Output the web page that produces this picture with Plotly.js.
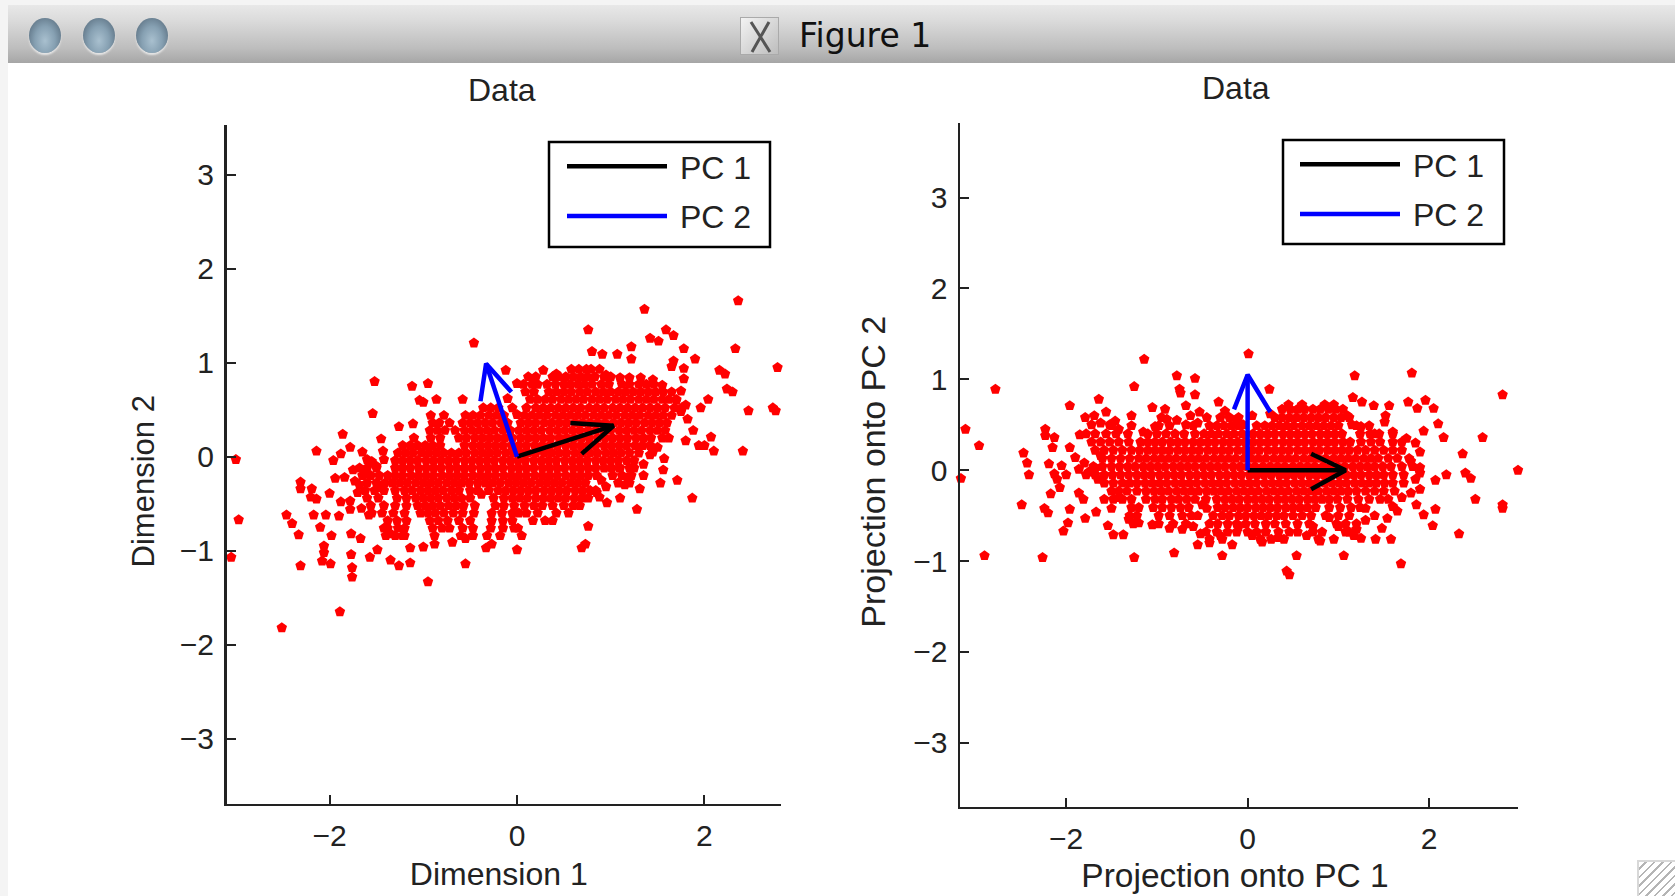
<!DOCTYPE html>
<html><head><meta charset="utf-8">
<script src="https://cdn.plot.ly/plotly-3.0.1.min.js"></script>
<style>
html,body{margin:0;padding:0;width:1675px;height:896px;overflow:hidden;background:#f4f4f4}
#sheet{position:absolute;left:8px;top:63px;right:0;bottom:0;background:#fff}
#bar{position:absolute;left:8px;top:5px;right:0;height:58px;background:linear-gradient(#e8e8e8,#dcdcdc 25%,#bdbdbd 75%,#a6a6a6)}
.btn{position:absolute;top:18px;width:32px;height:35px;border-radius:50%;background:radial-gradient(ellipse at 50% 65%,#a9c0cf 0%,#86a0b2 45%,#5d7283 85%,#4c5c68 100%);box-shadow:0 2px 2px #e6e6e6}
#xicon{position:absolute;left:740px;top:17px;width:39px;height:38px;background:linear-gradient(135deg,#f3f3f3,#bdbdbd);border:1px solid #aaa;box-sizing:border-box;overflow:hidden}
#grip{position:absolute;left:1637px;top:860px;width:38px;height:36px;border:2px solid #d8d8d8;border-right:0;border-bottom:0;box-sizing:border-box;background:repeating-linear-gradient(135deg,#fff 0 4px,#b5b5b5 4px 6px)}
#plot{position:absolute;left:0;top:0}
</style></head><body>
<div id="bar"></div><div id="sheet"></div>
<div class="btn" style="left:29px"></div><div class="btn" style="left:83px"></div><div class="btn" style="left:136px"></div>
<div id="xicon"><svg width="39" height="38"><path d="M10 4 L29 34 M28 4 L11 34" stroke="#555" stroke-width="3" fill="none"/></svg></div>
<div id="grip"></div>
<div id="plot"></div>
<script>
// ---- tick labels and text ----
const tickX = [-2, 0, 2];
const tickY = [-3, -2, -1, 0, 1, 2, 3];
const legendNames = ["PC 1", "PC 2"];

// ---- left panel: individually readable points [x, y] ----
const leftSparse = [[2.36,1.66],[1.36,1.57],[.76,1.35],[1.59,1.35],[1.67,1.29],[1.42,1.26],[1.51,1.23],[-.46,1.21],[2.33,1.15],[1.22,1.17],[1.78,1.15],[.8,1.12],[.91,1.09],[1.07,1.09],[1.22,1.04],[1.9,1.04],[1.67,1.02],[2.78,.95],[2.16,.92],[2.22,.88],[1.65,.96],[-.12,.92],[-1.52,.8],[-1.12,.75],[-.95,.78],[2.24,.72],[2.3,.69],[1.78,.94],[1.78,.83],[2.04,.61],[1.96,.52],[2.47,.49],[2.73,.52],[2.76,.49],[-1.04,.6],[-1,.58],[-.86,.61],[-.58,.61],[-1.54,.46],[-1.26,.32],[-1.11,.35],[-1.86,.24],[1.82,.4],[1.88,.28],[2.07,.21],[1.8,.17],[1.94,.12],[2,.12],[2.1,.06],[2.41,.06],[-3,-.03],[-2.14,.06],[-1.45,.19],[-1.43,.06],[-1.96,-.04],[-1.88,.03],[-1.78,.1],[-1.65,.05],[-1.6,-.03],[-3.14,-.57],[-2.97,-.67],[-3.05,-1.07],[-2.46,-.62],[-2.4,-.71],[-2.33,-.83],[-2.31,-.27],[-2.31,-.34],[-2.19,-.34],[-2.2,-.43],[-2.14,-.45],[-2,-.39],[-1.94,-.23],[-1.84,-.22],[-1.73,-.26],[-1.88,-.48],[-1.78,-.56],[-1.9,-.63],[-2.17,-.62],[-2.04,-.62],[-2.1,-.75],[-1.98,-.84],[-2.06,-.95],[-2.06,-1.02],[-2.08,-1.11],[-1.99,-1.14],[-2.31,-1.16],[-1.77,-.82],[-1.67,-.87],[-1.77,-1.04],[-1.76,-1.18],[-1.76,-1.28],[-1.57,-1.07],[-1.49,-.99],[-1.35,-1.1],[-1.26,-1.16],[-1.14,-1.13],[-.95,-1.33],[-.55,-1.14],[-1.89,-1.65],[-2.51,-1.82],[.76,-.74],[.69,-.97],[.73,-.93],[0,-.99],[1.28,-.56],[1.87,-.44],[1.1,-.44],[1.71,-.25],[1.53,-.28],[1.31,-.34],[1.56,-.14],[1.57,-.02],[.96,-.49],[.88,-.43],[.05,-.84],[-.33,-.97],[-.27,-.93],[-1,-.96],[-.88,-.93],[-1.14,-.97],[-.69,-.91],[-.55,-.87],[-1.35,-.82],[-1.22,-.84],[-1.42,-.76],
[-1.75,-.14],[-1.68,-.3],[-1.62,-.18],[-1.5,-.1],[-1.55,-.05],[-1.42,-.03],[-1.7,-.38],[-1.45,-.33],[-1.78,-.47],[-1.66,-.55],[-1.58,-.62],[.88,.93],[.95,.87],[1.1,.84],[1.2,.84],[1.32,.84],[1.45,.82],[1.55,.76],[1.75,.7],[1.7,.6],[1.8,.55],[1.75,.48],[.28,.92],[.42,.88],[0,.78],[-.1,.62],[-.05,.52],[0,.45],[1.25,-.12],[1.35,-.08],[1.42,.02],[1.5,.1],[1.35,-.2],[1.45,.05],[1.1,-.12],[1.15,-.3],[.9,-.25],[.95,-.32],[.85,-.38],[1.18,-.22],[-.25,-.44],[-.38,-.4]];

// ---- left panel: dense band, estimated row by row [y, x, x, ...] ----
const leftBand = [
[.93,.58,.66,.74,.79],
[.85,.12,.2,.38,.45,.52,.6,.68,.75,.83,.93,1.0],
[.77,.07,.16,.22,.32,.41,.5,.57,.65,.72,.8,.9,.98,1.12,1.2,1.3,1.38,1.46],
[.69,.09,.18,.34,.42,.5,.58,.67,.75,.84,.92,1.0,1.08,1.16,1.24,1.32,1.4,1.48,1.56,1.65],
[.61,.14,.22,.3,.38,.47,.55,.63,.71,.8,.88,.96,1.05,1.13,1.21,1.3,1.38,1.46,1.55,1.62,1.7],
[.52,-.36,-.28,-.2,.1,.2,.28,.36,.44,.52,.6,.68,.77,.85,.93,1.02,1.1,1.18,1.26,1.34,1.42,1.5,1.58,1.68,1.76],
[.44,-.92,-.78,-.55,-.47,-.39,-.3,-.22,-.14,.08,.16,.24,.32,.41,.49,.57,.65,.73,.82,.9,.98,1.06,1.15,1.23,1.31,1.4,1.48,1.56,1.65],
[.36,-.9,-.83,-.72,-.58,-.5,-.42,-.34,-.26,-.17,-.1,.04,.12,.2,.29,.37,.45,.53,.62,.7,.78,.86,.94,1.03,1.11,1.19,1.27,1.36,1.44,1.52,1.6],
[.28,-.93,-.85,-.77,-.66,-.56,-.48,-.4,-.32,-.24,-.15,-.07,.02,.1,.18,.26,.35,.43,.51,.59,.67,.76,.84,.92,1.0,1.09,1.17,1.25,1.33,1.42,1.5,1.58],
[.2,-1.1,-.92,-.82,-.62,-.54,-.45,-.37,-.29,-.21,-.13,-.05,.04,.12,.2,.28,.36,.45,.53,.61,.69,.77,.86,.94,1.02,1.1,1.18,1.27,1.35,1.43,1.55,1.62],
[.12,-1.22,-1.14,-1.06,-.98,-.9,-.82,-.56,-.47,-.39,-.31,-.23,-.15,-.06,.02,.1,.19,.27,.35,.43,.52,.6,.68,.76,.84,.93,1.01,1.09,1.17,1.26,1.34,1.42],
[.04,-1.27,-1.19,-1.11,-1.02,-.94,-.86,-.78,-.7,-.62,-.54,-.45,-.37,-.29,-.21,-.12,-.04,.04,.12,.2,.29,.37,.45,.53,.62,.7,.78,.86,.95,1.03,1.11,1.2,1.3],
[-.04,-1.3,-1.22,-1.14,-1.06,-.97,-.89,-.81,-.73,-.65,-.56,-.48,-.4,-.32,-.24,-.15,-.07,.01,.09,.18,.26,.34,.42,.51,.59,.67,.75,.84,.92,1.0,1.08,1.17,1.25],
[-.12,-1.68,-1.6,-1.5,-1.3,-1.22,-1.14,-1.05,-.97,-.89,-.81,-.72,-.64,-.56,-.48,-.39,-.31,-.23,-.15,-.06,.02,.1,.18,.27,.35,.43,.51,.6,.68,.76,.84,.93,1.01,1.09,1.2],
[-.2,-1.65,-1.56,-1.47,-1.38,-1.3,-1.22,-1.13,-1.05,-.97,-.89,-.8,-.72,-.64,-.56,-.47,-.39,-.31,-.23,-.14,-.06,.02,.1,.19,.27,.35,.43,.52,.6,.68,.76,.85,1.02,1.12,1.22],
[-.28,-1.6,-1.5,-1.41,-1.33,-1.25,-1.17,-1.08,-1,-.92,-.84,-.75,-.67,-.59,-.51,-.42,-.34,-.26,-.18,-.09,-.01,.07,.15,.24,.32,.4,.48,.57,.65,.73,1.08,1.2],
[-.36,-1.62,-1.52,-1.42,-1.3,-1.2,-1.12,-1.03,-.95,-.87,-.79,-.7,-.62,-.5,-.42,-.3,-.2,-.12,-.04,.04,.12,.2,.29,.37,.45,.53,.62,.7,.78,.84],
[-.44,-1.6,-1.48,-1.28,-1.18,-1.08,-1,-.92,-.84,-.75,-.67,-.59,-.5,-.14,-.05,.03,.11,.2,.28,.36,.44,.52,.61,.69,.76],
[-.52,-1.56,-1.42,-1.3,-1.18,-1.06,-.98,-.9,-.82,-.73,-.65,-.57,-.45,-.23,-.14,-.03,.08,.18,.27,.38,.5,.6,.67],
[-.6,-1.55,-1.44,-1.32,-1.2,-1.03,-.95,-.87,-.78,-.68,-.58,-.46,-.27,-.16,-.05,.02,.1,.22,.42,.55],
[-.68,-1.38,-1.28,-1.18,-.93,-.84,-.74,-.62,-.5,-.27,-.15,-.05,.17,.3,.38],
[-.76,-1.38,-1.27,-1.2,-.9,-.8,-.72,-.58,-.47,-.28,-.15,-.03,.01],
[-.84,-1.4,-1.3,-1.2,-.88,-.6,-.47,-.32,-.18]
];

// ---- right panel: individually readable points [x, y] ----
const rightSparse = [[.01,1.28],[-1.14,1.22],[1.81,1.07],[1.18,1.04],[-.78,1.04],[-.58,1.01],[-2.78,.89],[-1.25,.92],[-.75,.89],[-.74,.85],[-.58,.83],[.24,.89],[2.81,.83],[-1.64,.78],[-1.96,.71],[-1.05,.69],[-.32,.75],[1.16,.8],[1.26,.75],[1.39,.71],[1.56,.71],[1.52,.6],[1.51,.53],[1.77,.75],[1.87,.68],[1.96,.77],[2.05,.68],[2.1,.51],[1.94,.43],[2.16,.36],[2.59,.36],[-3.11,.45],[-2.96,.27],[-2.23,.45],[-2.23,.38],[-2.13,.36],[-1.85,.39],[-1.96,.25],[-2.15,.25],[-2.47,.19],[-2.43,.08],[-3.16,-.09],[-2.41,-.05],[2.98,0],[2.37,.18],[2.4,-.03],[2.46,-.09],[2.19,-.05],[2.07,-.11],[1.9,-.03],[-2.49,-.38],[-2.24,-.42],[-2.2,-.47],[-1.96,-.43],[-1.79,-.53],[-1.67,-.46],[-1.98,-.58],[-2.03,-.67],[-2.9,-.94],[-2.26,-.96],[-1.25,-.96],[-.81,-.91],[-.28,-.94],[.54,-.94],[1.06,-.94],[1.69,-1.03],[.43,-1.11],[.46,-1.15],[-.55,-.82],[-.42,-.8],[-.17,-.82],[.16,-.79],[.34,-.74],[.8,-.78],[.95,-.76],[1.17,-.72],[1.41,-.76],[1.58,-.76],[1.48,-.64],[1.54,-.53],[2.04,-.61],[2.33,-.7],[2.51,-.32],[2.81,-.38],[2.81,-.42],[2.07,-.43],[1.94,-.49],[1.86,-.38],[1.9,-.21],[-1.54,-.61],[-1.48,-.71],[-1.37,-.71],[-1.31,-.54],[-1.2,-.58],[-1.05,-.6],[-.86,-.64],[-.72,-.65],[-1.79,.58],[-1.69,.6],[-1.56,.64],[-1.46,.54],[-1.28,.6],[-1.28,.49],[-.91,.67],[-.89,.56],[-.68,.71],[-.63,.6],[-.53,.64],[-2.19,.07],[-2.05,.05],[-2.13,-.04],[-1.9,.14],[-1.86,.01],[-2.17,-.26],[-2.07,-.19],[-1.86,-.25],[-1.81,-.32],[-1.62,.16],
[-1.72,.5],[-1.62,.52],[-1.52,.5],[-1.42,.45],[-1.15,.42],[-1.02,.48],[-.95,.58],[-.78,.55],[-.68,.5],[-.55,.52],[-.45,.58],[-.25,.65],[-.12,.55],[-.05,.5],[.05,.6],[.25,.62],[.45,.72],[.6,.72],[.85,.72],[.95,.72],[1.1,.6],[1.15,.5],[1.25,.48],[1.4,.4],[1.6,.42],[1.75,.35],[1.85,.3],[1.9,.2],[1.8,.1],[1.9,.03],[1.85,-.1],[1.8,-.25],[1.7,-.3],[1.6,-.4],[1.65,-.45],[1.4,-.5],[1.3,-.55],[1.2,-.65],[1.3,-.42],[-2,-.05],[-2.1,-.1],[-1.8,.08],[-1.75,-.02],[-1.68,.02],[-1.65,-.1],[-1.5,-.42],[-1.42,-.3],[-.6,-.62],[-.52,-.7],[-.3,-.72],[-.1,-.62],[.05,-.72],[.2,-.68],[.55,-.68],[.65,-.72],[.72,-.62],[.9,-.52],[1,-.62],[1.08,-.68],[1.25,-.75],[-.5,-.38],[-.55,-.5],[-.45,-.42],[-.46,-.32]];

// ---- right panel: dense band, estimated row by row [y, x, x, ...] ----
const rightBand = [
[.67,.38,.47,.55,.63,.72,.8,.89,.97,1.05],
[.58,-.3,-.2,-.1,.3,.38,.46,.54,.62,.7,.78,.86,.95,1.03,1.12],
[.49,-1.5,-.98,-.86,-.6,-.42,-.34,-.26,-.18,-.1,.1,.19,.27,.35,.43,.51,.6,.68,.76,.84,.92,1,1.2,1.34],
[.4,-1.78,-1.68,-1.56,-1.45,-1.32,-1.1,-1,-.9,-.8,-.7,-.58,-.48,-.4,-.32,-.23,-.15,-.06,.06,.14,.22,.3,.39,.47,.55,.63,.71,.8,.88,.96,1.04,1.24,1.35,1.45,1.6],
[.31,-1.72,-1.62,-1.52,-1.42,-1.31,-1.18,-1.1,-1.02,-.94,-.85,-.77,-.69,-.6,-.52,-.44,-.36,-.27,-.19,-.11,-.03,.06,.14,.22,.3,.39,.47,.55,.63,.72,.8,.88,.96,1.05,1.13,1.25,1.36,1.46,1.6,1.7],
[.22,-1.68,-1.58,-1.48,-1.38,-1.28,-1.19,-1.1,-1.02,-.94,-.86,-.77,-.69,-.61,-.53,-.44,-.36,-.28,-.2,-.11,-.03,.05,.13,.22,.3,.38,.46,.55,.63,.71,.79,.88,.96,1.04,1.12,1.21,1.3,1.4,1.5,1.6,1.7],
[.13,-1.6,-1.5,-1.4,-1.3,-1.2,-1.12,-1.03,-.95,-.87,-.79,-.7,-.62,-.54,-.46,-.37,-.29,-.21,-.13,-.04,.04,.12,.2,.29,.37,.45,.53,.62,.7,.78,.86,.95,1.03,1.11,1.19,1.28,1.36,1.44,1.55,1.65,1.78],
[.04,-1.7,-1.6,-1.5,-1.41,-1.32,-1.24,-1.15,-1.07,-.99,-.91,-.82,-.74,-.66,-.58,-.49,-.41,-.33,-.25,-.16,-.08,0,.08,.17,.25,.33,.41,.5,.58,.66,.74,.83,.91,.99,1.07,1.16,1.24,1.32,1.4,1.49,1.58,1.7,1.82],
[-.05,-1.78,-1.68,-1.58,-1.49,-1.4,-1.31,-1.22,-1.14,-1.06,-.97,-.89,-.81,-.73,-.64,-.56,-.48,-.4,-.31,-.23,-.15,-.07,.02,.1,.18,.26,.35,.43,.51,.59,.68,.76,.84,.92,1.01,1.09,1.17,1.25,1.34,1.42,1.5,1.6,1.72],
[-.14,-1.58,-1.48,-1.38,-1.3,-1.22,-1.13,-1.05,-.97,-.89,-.8,-.72,-.64,-.56,-.47,-.39,-.31,-.23,-.14,-.06,.02,.1,.19,.27,.35,.43,.52,.6,.68,.76,.85,.93,1.01,1.09,1.18,1.26,1.34,1.42,1.51,1.6,1.72],
[-.23,-1.5,-1.42,-1.33,-1.22,-1.12,-1.03,-.95,-.87,-.78,-.7,-.62,-.54,-.45,-.37,-.29,-.21,-.12,-.04,.04,.12,.21,.29,.37,.45,.54,.62,.7,.78,.87,.95,1.03,1.11,1.2,1.3,1.4,1.5,1.62],
[-.32,-1.58,-1.48,-1.38,-1.28,-1.12,-1.02,-.94,-.84,-.76,-.67,-.58,-.34,-.25,-.17,-.09,0,.08,.16,.24,.33,.41,.49,.57,.66,.74,.82,.9,.99,1.1,1.22,1.34,1.46,1.55],
[-.41,-1.28,-1.2,-1.04,-.94,-.84,-.74,-.65,-.33,-.25,-.16,-.08,0,.09,.17,.25,.33,.42,.5,.58,.66,.75,.9,1.02,1.14,1.24],
[-.5,-1.3,-1.22,-.98,-.86,-.72,-.62,-.38,-.28,-.2,-.1,-.02,.07,.15,.23,.32,.4,.5,.6,.7,.86,1.0,1.12],
[-.59,-1.26,-.98,-.82,-.68,-.42,-.33,-.22,-.12,-.02,.08,.2,.3,.42,.55,.68,.98,1.08,1.2],
[-.68,-.46,-.34,-.22,-.12,0,.1,.2,.34,.46,.72,.82,1.12],
[-.76,-.42,-.28,.14,.26,.4,.78]
];

// ---- arrows ----
const leftPc1X = [0, 1.03, null, .57, 1.03, .69], leftPc1Y = [0, .33, null, .36, .33, .03];
const leftPc2X = [0, -.33, null, -.39, -.33, -.06], leftPc2Y = [0, .99, null, .59, .99, .69];
const rightPc1X = [0, 1.08, null, .7, 1.08, .7], rightPc1Y = [0, 0, null, .18, 0, -.21];
const rightPc2X = [0, 0, null, -.15, 0, .25], rightPc2Y = [0, 1.05, null, .67, 1.05, .64];

function unroll(sparse, band){
  const xs = sparse.map(p => p[0]), ys = sparse.map(p => p[1]);
  band.forEach(r => r.slice(1).forEach(x => { xs.push(x); ys.push(r[0]); }));
  return {xs, ys};
}
const L = unroll(leftSparse, leftBand), R = unroll(rightSparse, rightBand);

const PX = 1675, PY = 896, ink = '#222', FS = 30, TS = 32, FF = '"Liberation Sans", Arial, sans-serif';
const marker = {symbol:'pentagon', size:11, color:'#ff0000', line:{width:0}};
const line = (c) => ({color:c, width:4.5});
const traces = [
 {type:'scatter', mode:'markers', x:L.xs, y:L.ys, marker, showlegend:false, xaxis:'x', yaxis:'y', cliponaxis:false},
 {type:'scatter', mode:'lines', x:leftPc1X, y:leftPc1Y, line:line('#000'), name:legendNames[0], xaxis:'x', yaxis:'y', legend:'legend', legendgroup:'a'},
 {type:'scatter', mode:'lines', x:leftPc2X, y:leftPc2Y, line:line('#0000ff'), name:legendNames[1], xaxis:'x', yaxis:'y', legend:'legend', legendgroup:'b'},
 {type:'scatter', mode:'markers', x:R.xs, y:R.ys, marker, showlegend:false, xaxis:'x2', yaxis:'y2', cliponaxis:false},
 {type:'scatter', mode:'lines', x:rightPc1X, y:rightPc1Y, line:line('#000'), name:legendNames[0], xaxis:'x2', yaxis:'y2', legend:'legend2', legendgroup:'c'},
 {type:'scatter', mode:'lines', x:rightPc2X, y:rightPc2Y, line:line('#0000ff'), name:legendNames[1], xaxis:'x2', yaxis:'y2', legend:'legend2', legendgroup:'d'}
];
const axis = (extra) => Object.assign({
  showgrid:false, zeroline:false, showline:true, linecolor:ink, linewidth:2.5, mirror:false,
  ticks:'inside', ticklen:9, tickwidth:2, tickcolor:ink, tickfont:{family:FF,size:FS,color:ink},
  tickmode:'array', automargin:false, ticklabelstandoff:4
}, extra);
const legendBox = (x, y) => ({
  x:x/PX, y:1-y/PY, xanchor:'left', yanchor:'top', bgcolor:'rgba(0,0,0,0)', borderwidth:0,
  font:{family:FF,size:TS,color:ink}, itemwidth:100, tracegroupgap:5
});
const box = (x0,y0,x1,y1) => ({type:'rect', xref:'paper', yref:'paper', x0:x0/PX, x1:x1/PX, y0:1-y0/PY, y1:1-y1/PY,
  line:{color:'#000',width:2.5}, fillcolor:'#fff', layer:'above'});
const ann = (text,x,y,font) => ({text, xref:'paper', yref:'paper', x:x/PX, y:1-y/PY, xanchor:'center', yanchor:'middle', showarrow:false, font});
const layout = {
  width:PX, height:PY, margin:{l:0,r:0,t:0,b:0}, paper_bgcolor:'rgba(0,0,0,0)', plot_bgcolor:'rgba(0,0,0,0)',
  xaxis: axis({domain:[226.5/PX,781/PX], range:[-3.10,2.817], tickvals:tickX, anchor:'y', title:{text:'Dimension 1',font:{family:FF,size:TS,color:ink},standoff:14}}),
  yaxis: axis({domain:[1-803.5/PY,1-125/PY], range:[-3.69,3.53], tickvals:tickY, anchor:'x', title:{text:'Dimension 2',font:{family:FF,size:TS-1,color:ink},standoff:20}}),
  xaxis2: axis({domain:[960/PX,1518/PX], range:[-3.17,2.98], tickvals:tickX, anchor:'y2', title:{text:'Projection onto PC 1',font:{family:FF,size:TS+1.5,color:ink},standoff:14}}),
  yaxis2: axis({domain:[1-806.5/PY,1-123/PY], range:[-3.7,3.82], tickvals:tickY, anchor:'x2', title:{text:'Projection onto PC 2',font:{family:FF,size:TS+2,color:ink},standoff:20}}),
  legend: legendBox(562,139),
  legend2: legendBox(1295,137),
  shapes:[box(549,142,770,247), box(1283,140,1504,244)],
  annotations:[
   ann('Data',502,90,{family:FF,size:TS,color:ink}),
   ann('Data',1236,88,{family:FF,size:TS,color:ink}),
   ann('Figure 1',865,36,{family:'"DejaVu Sans", sans-serif',size:33,color:'#111'})
  ],
  showlegend:true
};
// small offsets of the axis titles, which sit off-centre in the original figure
const titleNudge = {'.g-xtitle':[-5,-2], '.g-ytitle':[4,17], '.g-x2title':[-4,-4], '.g-y2title':[2,7]};
function finishing(){
  Object.entries(titleNudge).forEach(([sel,[dx,dy]]) => {
    const g = document.querySelector(sel);
    if (g) g.setAttribute('transform', `translate(${dx},${dy})`);
  });
  document.querySelectorAll('.legendtext, .legend2text').forEach(t => t.setAttribute('dx', 8));
  document.querySelectorAll('.legend, .legend2').forEach(l => l.querySelectorAll('[clip-path]').forEach(c => c.removeAttribute('clip-path')));
}
Plotly.newPlot('plot', traces, layout, {displayModeBar:false, staticPlot:true}).then(finishing);
</script>
</body></html>
